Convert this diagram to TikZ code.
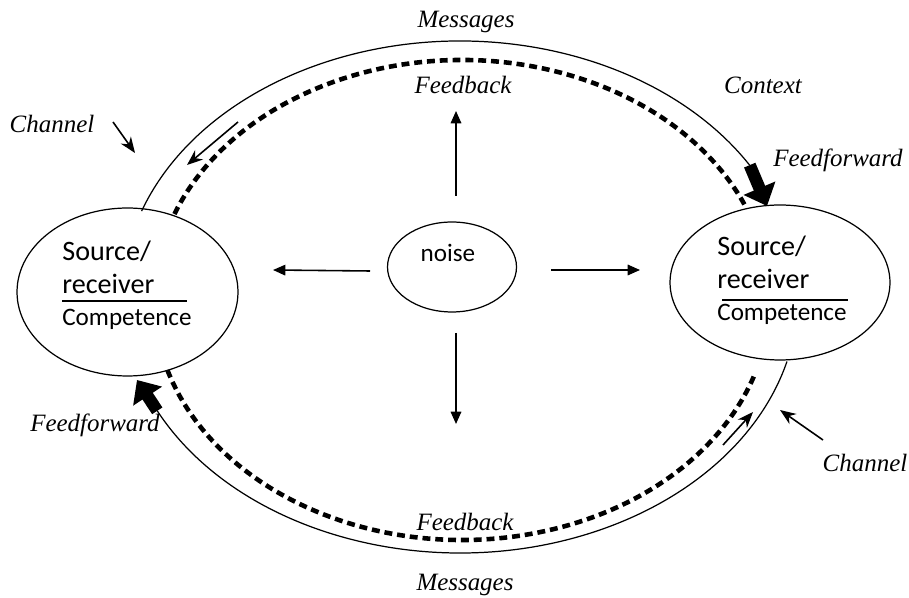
\documentclass[tikz,border=0pt]{standalone}
\usepackage{fontspec}
\setmainfont{Liberation Serif}
\newfontfamily\calib{Carlito}
\usetikzlibrary{shapes.geometric,arrows.meta,calc}
\begin{document}
\begin{tikzpicture}[x=0.02cm,y=0.02cm,
  oval/.style={ellipse,draw,line width=0.7pt,inner sep=0pt,outer sep=0pt},
  lbl/.style={font=\fontsize{14.2}{16}\selectfont\itshape,inner sep=0pt},
  srcA/.style={font=\calib\fontsize{16}{18}\selectfont,inner sep=0pt,anchor=base west},
  comp/.style={font=\calib\fontsize{14.3}{16}\selectfont,inner sep=0pt,anchor=base west},
  ray/.style={line width=0.9pt,-{Triangle[length=7pt,width=6pt]}},
  flow/.style={line width=0.7pt},
  fb/.style={line width=2.6pt,dash pattern=on 4.5pt off 2.8pt},
  ff/.style={line width=7pt,-{Triangle[length=11pt,width=19pt]}},
  slim/.style={line width=0.9pt,-{Stealth[length=9pt,width=7pt]}},
  rule/.style={line width=0.7pt}
]
\useasboundingbox (0,0) rectangle (909,598);

% ellipses
\node[oval,minimum width=4.42cm,minimum height=3.36cm] (L) at (127.5,306) {};
\node[oval,minimum width=4.40cm,minimum height=3.10cm] (R) at (780,315.5) {};
\node[oval,minimum width=2.58cm,minimum height=1.80cm] (N) at (452,331) {};

% texts in ellipses
\node[srcA] (Ls) at (62,337) {Source/};
\node[srcA] (Lr) at (62,304) {receiver};
\coordinate (La) at (62,297); \coordinate (Lb) at (187,297);
\draw[rule] (La) -- (Lb);
\node[comp] (Lc) at (62,272) {Competence};

\node[srcA] (Rs) at (717,342) {Source/};
\node[srcA] (Rr) at (717,309) {receiver};
\coordinate (Ra) at (722,298); \coordinate (Rb) at (848,298);
\draw[rule] (Ra) -- (Rb);
\node[comp] (Rc) at (717,277) {Competence};

\node[comp,anchor=base] (Nt) at (448,336) {noise};

% big flow ellipses
\coordinate (E) at (460,301);
\coordinate (D) at (462,298);
\coordinate (tL) at ($(E)+(160.4:338 and 256)$);
\coordinate (tR) at ($(E)+(31:338 and 256)$);
\coordinate (bL) at ($(E)+(206.4:338 and 256)$);
\coordinate (dtL) at ($(D)+(159:308 and 240)$);
\coordinate (dbL) at ($(D)+(197:308 and 240)$);

\draw[flow] (tL) arc[start angle=160.4,end angle=31,x radius=6.76cm,y radius=5.12cm];
\draw[flow] (bL) arc[start angle=206.4,end angle=345.4,x radius=6.76cm,y radius=5.12cm];
\draw[fb] (dtL) arc[start angle=159,end angle=23,x radius=6.16cm,y radius=4.8cm];
\draw[fb] (dbL) arc[start angle=197,end angle=342.5,x radius=6.16cm,y radius=4.8cm];

% feedforward arrows
\coordinate (ffRtip) at (767,392);
\coordinate (ffLtip) at (137,218);
\draw[ff] (tR) -- (ffRtip);
\draw[ff] (bL) -- (ffLtip);

% slim arrows along the channel
\coordinate (s1a) at (238,476); \coordinate (s1b) at (187,433);
\coordinate (s2a) at (723,153); \coordinate (s2b) at (753,186);
\draw[slim] (s1a) -- (s1b);
\draw[slim] (s2a) -- (s2b);

% channel pointers
\coordinate (c1a) at (113,476); \coordinate (c1b) at (135,445);
\coordinate (c2a) at (823,158); \coordinate (c2b) at (780,188);
\draw[slim] (c1a) -- (c1b);
\draw[slim] (c2a) -- (c2b);

% noise rays
\coordinate (nL0) at (370,327); \coordinate (nL1) at (273,328);
\coordinate (nR0) at (551,328); \coordinate (nR1) at (640,328);
\coordinate (nD0) at (456,265); \coordinate (nD1) at (456,174);
\coordinate (nU0) at (456,402); \coordinate (nU1) at (456,487);
\draw[ray] (nL0) -- (nL1);
\draw[ray] (nR0) -- (nR1);
\draw[ray] (nD0) -- (nD1);
\draw[ray] (nU0) -- (nU1);

% labels
\node[lbl] (m1) at (466,576) {Messages};
\node[lbl] (f1) at (463,513) {Feedback};
\node[lbl] (cx) at (763,513) {Context};
\node[lbl] (ffr) at (838,438) {Feedforward};
\node[lbl] (ch1) at (52,474) {Channel};
\node[lbl] (ch2) at (865,135) {Channel};
\node[lbl] (ffl) at (95,173) {Feedforward};
\node[lbl] (f2) at (465,76) {Feedback};
\node[lbl] (m2) at (465,13) {Messages};
\end{tikzpicture}
\end{document}
